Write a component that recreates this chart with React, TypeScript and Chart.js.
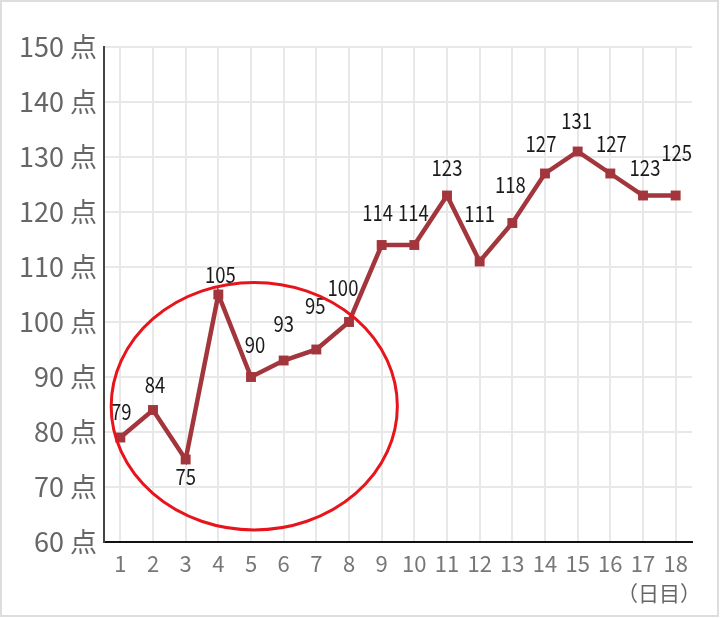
import React, { useEffect, useRef } from "react";
import { Chart, registerables } from "chart.js";

Chart.register(...registerables);

const days = ["1","2","3","4","5","6","7","8","9","10","11","12","13","14","15","16","17","18"];
const scores = [79, 84, 75, 105, 90, 93, 95, 100, 114, 114, 123, 111, 118, 127, 131, 127, 123, 123];
const scoreLabels = ["79","84","75","105","90","93","95","100","114","114","123","111","118","127","131","127","123","125"];
const yTicks = [60, 70, 80, 90, 100, 110, 120, 130, 140, 150];
const unitLabel = "点";
const xTitle = "（日目）";

// label placement relative to its point (pixels)
const labelDy = [-26, -25, 17, -20, -32, -37, -44, -34, -32, -32, -28, -48, -38, -30, -31, -30, -28, -43];
const labelDx = [1, 2, 0, 2, 4, 0, -1, -6, -4, -1, 0, 0, -2, -4, -1, 1, 2, 1];

// highlight ellipse in data units (category index, value)
const ellipse = { cx: 4.1, cy: 84.7, rx: 4.38, ry: 22.5 };

const LINE = "#a3363c";
const CJK = "'Noto Sans CJK JP', 'Noto Sans', sans-serif";

const framePlugin = {
  id: "frame",
  beforeDraw(chart: any) {
    const { ctx, width, height } = chart;
    ctx.save();
    ctx.fillStyle = "#ffffff";
    ctx.fillRect(0, 0, width, height);
    ctx.strokeStyle = "#dddddd";
    ctx.lineWidth = 2;
    ctx.strokeRect(1, 1, width - 3, height - 3);
    ctx.restore();
  },
};

const labelPlugin = {
  id: "valueLabels",
  afterDatasetsDraw(chart: any) {
    const { ctx } = chart;
    const meta = chart.getDatasetMeta(0);
    ctx.save();
    ctx.font = `22px ${CJK}`;
    ctx.fillStyle = "#1a1a1a";
    ctx.textAlign = "center";
    ctx.textBaseline = "middle";
    meta.data.forEach((pt: any, i: number) => {
      ctx.save();
      ctx.translate(pt.x + labelDx[i], pt.y + labelDy[i]);
      ctx.scale(0.84, 1);
      ctx.fillText(scoreLabels[i], 0, 0);
      ctx.restore();
    });
    ctx.restore();
  },
};

const axisTitlePlugin = {
  id: "axisTitle",
  afterDraw(chart: any) {
    const { ctx, chartArea } = chart;
    ctx.save();
    ctx.font = `21px ${CJK}`;
    ctx.fillStyle = "#666666";
    ctx.textAlign = "right";
    ctx.textBaseline = "middle";
    ctx.fillText(xTitle, chartArea.right + 9, chartArea.bottom + 51);
    ctx.restore();
  },
};

const ellipsePlugin = {
  id: "ellipse",
  afterDraw(chart: any) {
    const xs = chart.scales.x;
    const ys = chart.scales.y;
    const cx = xs.getPixelForValue(ellipse.cx);
    const cy = ys.getPixelForValue(ellipse.cy);
    const rx = Math.abs(xs.getPixelForValue(ellipse.cx + ellipse.rx) - cx);
    const ry = Math.abs(ys.getPixelForValue(ellipse.cy + ellipse.ry) - cy);
    const { ctx } = chart;
    ctx.save();
    ctx.strokeStyle = "#e8141b";
    ctx.lineWidth = 3;
    ctx.beginPath();
    ctx.ellipse(cx, cy, rx, ry, 0, 0, Math.PI * 2);
    ctx.stroke();
    ctx.restore();
  },
};

export default function App() {
  const ref = useRef<HTMLCanvasElement | null>(null);
  useEffect(() => {
    document.body.style.margin = "0";
    if (!ref.current) return;
    const chart = new Chart(ref.current, {
      type: "line",
      data: {
        labels: days,
        datasets: [
          {
            data: scores,
            borderColor: LINE,
            backgroundColor: LINE,
            borderWidth: 4.5,
            pointStyle: "rect",
            pointRadius: 7,
            pointBorderWidth: 0,
            pointBackgroundColor: LINE,
            tension: 0,
          },
        ],
      },
      options: {
        animation: false,
        responsive: false,
        maintainAspectRatio: false,
        layout: { padding: { left: 0, top: 47, right: 28, bottom: 0 } },
        plugins: {
          legend: { display: false },
          tooltip: { enabled: false },
        },
        scales: {
          x: {
            type: "category",
            offset: true,
            grid: { color: "#e8e8e8", lineWidth: 2, drawTicks: false, offset: false },
            border: { color: "#111111", width: 2 },
            ticks: {
              color: "#777777",
              font: { family: CJK, size: 22 },
              padding: 8,
              maxRotation: 0,
              autoSkip: false,
            },
            afterFit(scale: any) {
              scale.height = 76;
            },
          },
          y: {
            min: 60,
            max: 150,
            afterBuildTicks(scale: any) {
              scale.ticks = yTicks.map((v) => ({ value: v }));
            },
            grid: { color: "#e8e8e8", lineWidth: 2, drawTicks: false },
            border: { color: "#444444", width: 2 },
            ticks: {
              color: "#666666",
              font: { family: CJK, size: 27 },
              padding: 7,
              callback: (v: any) => `${v} ${unitLabel}`,
            },
            afterFit(scale: any) {
              scale.width = 104;
            },
          },
        },
      },
      plugins: [framePlugin, labelPlugin, ellipsePlugin, axisTitlePlugin],
    });
    return () => chart.destroy();
  }, []);
  return (
    <div style={{ width: 720, height: 618 }}>
      <canvas ref={ref} width={720} height={618} style={{ display: "block" }} />
    </div>
  );
}
